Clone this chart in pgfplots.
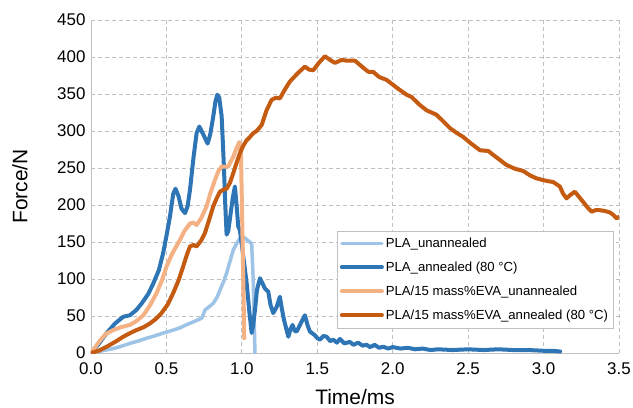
\documentclass[border=0pt]{standalone}
\usepackage{fontspec}
\setmainfont{Liberation Sans}
\usepackage{pgfplots}
\pgfplotsset{compat=1.18}
\usetikzlibrary{calc}
\definecolor{lblue}{HTML}{9DC3E6}
\definecolor{dblue}{HTML}{2E75B6}
\definecolor{lorange}{HTML}{F4B183}
\definecolor{dorange}{HTML}{C55A11}
\definecolor{gridc}{HTML}{C0C0C0}
\begin{document}
\begin{tikzpicture}
\begin{axis}[name=ax, scale only axis, width=528bp, height=333bp,
  xmin=0, xmax=3.5, ymin=0, ymax=450,
  xtick={0,0.5,1,1.5,2,2.5,3,3.5},
  ytick={0,50,100,150,200,250,300,350,400,450},
  xticklabel style={/pgf/number format/fixed, /pgf/number format/fixed zerofill, /pgf/number format/precision=1},
  /pgf/number format/assume math mode=true,
  grid=major, grid style={dash pattern=on 4bp off 3bp, color=gridc, line width=0.8bp},
  axis lines=left, axis line style={-, color=gridc, line width=0.8bp},
  major tick length=0,
  tick label style={font=\fontsize{17}{20}\selectfont, text=black},
  xticklabel style={yshift=-6bp},
  yticklabel style={xshift=-2bp},
  xlabel={Time/ms}, ylabel={Force/N},
  label style={font=\fontsize{21}{25}\selectfont},
  xlabel style={at={(axis description cs:0.5,-0.132)}, anchor=center},
  ylabel style={at={(axis description cs:-0.1345,0.5)}, anchor=center},
  legend style={at={(rel axis cs:0.989,0.075)}, anchor=south east, draw=gridc,
    font=\fontsize{13.2}{15}\selectfont, row sep=9bp, inner xsep=3bp, inner ysep=5bp,
    cells={anchor=west}},
  legend image code/.code={\draw[#1] (0bp,0bp) -- (40bp,0bp);},
  every axis plot/.append style={line width=4bp, line join=round, line cap=round},
]
\addplot[lblue, line width=3.5bp] coordinates {
(0,0) (0.05,2) (0.1,4) (0.148,6) (0.2,9) (0.258,13) (0.31,16) (0.369,20) (0.42,23) (0.479,27) (0.53,30) (0.59,34) (0.63,38) (0.678,42) (0.733,47) (0.745,52) (0.755,58) (0.78,62) (0.81,67) (0.835,75) (0.855,85) (0.88,97) (0.899,108) (0.92,123) (0.943,139) (0.965,148) (0.987,155) (1.01,157) (1.04,152) (1.065,148) (1.075,100) (1.087,0)
};
\addlegendentry{PLA\_unannealed}
\addplot[dblue] coordinates {
(0,0) (0.05,12) (0.104,27) (0.16,40) (0.214,49) (0.258,51) (0.30,58) (0.336,67) (0.38,80) (0.413,94) (0.45,112) (0.478,135) (0.50,158) (0.523,184) (0.545,215) (0.56,222) (0.58,212) (0.60,195) (0.623,189) (0.64,198) (0.656,220) (0.68,265) (0.70,297) (0.718,306) (0.745,295) (0.773,283) (0.79,295) (0.81,319) (0.825,340) (0.837,349) (0.85,345) (0.866,320) (0.875,280) (0.881,252) (0.89,200) (0.899,160) (0.91,165) (0.926,189) (0.94,210) (0.954,225) (0.965,200) (0.976,171) (0.987,166) (1.01,130) (1.032,94) (1.05,55) (1.065,27) (1.075,38) (1.087,58) (1.10,85) (1.12,101) (1.135,95) (1.153,87) (1.175,83) (1.19,65) (1.208,54) (1.23,62) (1.252,76) (1.265,60) (1.279,45) (1.308,22) (1.322,32) (1.336,38) (1.35,30) (1.363,29) (1.39,40) (1.418,51) (1.435,38) (1.451,29) (1.484,24) (1.50,20) (1.518,18) (1.54,23) (1.562,22) (1.585,16) (1.606,18) (1.63,14) (1.65,19) (1.68,13) (1.716,15) (1.74,11) (1.77,14) (1.80,10) (1.827,11) (1.85,8) (1.88,11) (1.91,7) (1.937,8.5) (1.97,6) (2.0,8) (2.05,6) (2.1,7) (2.15,5) (2.2,6) (2.25,4) (2.3,5) (2.4,4) (2.5,5) (2.6,4) (2.7,5) (2.8,4) (2.9,4) (3.0,3) (3.05,3) (3.11,2)
};
\addlegendentry{PLA\_annealed (80 °C)}
\addplot[lorange] coordinates {
(0,0) (0.06,17) (0.1,26) (0.148,31) (0.2,35) (0.258,38) (0.30,43) (0.347,51) (0.39,64) (0.435,81) (0.47,98) (0.501,117) (0.54,135) (0.59,153) (0.62,165) (0.656,175) (0.68,176) (0.70,173) (0.73,182) (0.766,198) (0.79,215) (0.822,234) (0.845,246) (0.866,252) (0.89,252) (0.91,252) (0.925,258) (0.943,265) (0.965,277) (0.983,285) (0.994,270) (1.005,150) (1.016,20)
};
\addlegendentry{PLA/15 mass\%EVA\_unannealed}
\addplot[dorange] coordinates {
(0,0) (0.05,3) (0.104,8.5) (0.16,15) (0.214,22) (0.26,27) (0.302,31) (0.35,35) (0.391,40) (0.43,46) (0.468,54) (0.51,66) (0.545,81) (0.58,98) (0.611,117) (0.636,133) (0.656,144) (0.68,146) (0.70,144) (0.73,152) (0.755,162) (0.78,178) (0.81,198) (0.835,210) (0.855,218) (0.88,221) (0.899,222) (0.921,230) (0.943,243) (0.965,257) (0.987,270) (1.009,280) (1.03,287) (1.054,292) (1.075,297) (1.098,300) (1.131,308) (1.164,328) (1.197,342) (1.225,345) (1.252,344) (1.285,356) (1.319,367) (1.37,378) (1.418,387) (1.445,383) (1.473,382) (1.51,392) (1.551,401) (1.585,396) (1.617,392) (1.661,396) (1.70,395) (1.75,395) (1.79,388) (1.838,380) (1.87,380) (1.91,373) (1.96,369) (2.03,358) (2.092,349) (2.125,346) (2.175,336) (2.224,328) (2.29,322) (2.33,314) (2.379,304) (2.42,298) (2.467,292) (2.52,283) (2.578,274) (2.633,273) (2.69,264) (2.755,254) (2.81,249) (2.865,246) (2.91,240) (2.953,236) (3.01,233) (3.064,231) (3.108,225) (3.13,215) (3.152,209) (3.18,214) (3.207,218) (3.235,211) (3.263,204) (3.29,197) (3.318,191) (3.345,193) (3.373,193) (3.405,192) (3.439,190) (3.46,187) (3.484,182) (3.5,184)
};
\addlegendentry{PLA/15 mass\%EVA\_annealed (80 °C)}
\end{axis}
\pgfresetboundingbox
\path ($(ax.south west)+(-91bp,-55bp)$) rectangle ($(ax.north east)+(14bp,20bp)$);
\end{tikzpicture}
\end{document}
